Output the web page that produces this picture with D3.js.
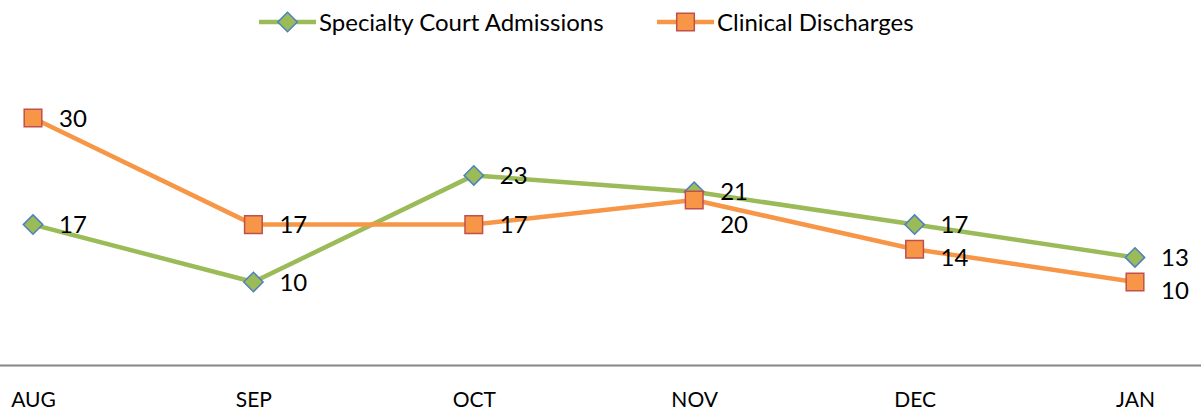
<!DOCTYPE html>
<html>
<head>
<meta charset="utf-8">
<script src="https://cdn.jsdelivr.net/npm/d3@7"></script>
<style>
  body { margin: 0; background: #fff; }
  svg { display: block; font-family: Lato, "Open Sans", sans-serif; }
</style>
</head>
<body>
<div id="chart"></div>
<script>
// chart data
var months = ["AUG", "SEP", "OCT", "NOV", "DEC", "JAN"];
var admissions = [17, 10, 23, 21, 17, 13];
var discharges = [30, 17, 17, 20, 14, 10];
var seriesNames = ["Specialty Court Admissions", "Clinical Discharges"];

var width = 1201, height = 413;

var svg = d3.select("#chart").append("svg")
  .attr("width", width)
  .attr("height", height);

var x = d3.scalePoint().domain(months).range([33, 1135]);
var y = d3.scaleLinear().domain([0, 35]).range([364, 77]);

var series = [
  { name: seriesNames[0], values: admissions, line: "#9BBB59", fill: "#9BBB59", stroke: "#4F81BD", shape: "diamond" },
  { name: seriesNames[1], values: discharges, line: "#F79646", fill: "#F79646", stroke: "#C0504D", shape: "square" }
];

// category axis: one baseline across the whole width
svg.append("line")
  .attr("x1", 0).attr("x2", width)
  .attr("y1", y(0) + 1.5).attr("y2", y(0) + 1.5)
  .attr("stroke", "#868686").attr("stroke-width", 2);

var xAxis = svg.append("g")
  .attr("transform", "translate(0," + (y(0) + 1.5) + ")")
  .call(d3.axisBottom(x).tickSize(0).tickPadding(27));
xAxis.select(".domain").remove();
xAxis.selectAll("text")
  .attr("font-family", "Lato, sans-serif")
  .attr("font-size", 21)
  .attr("fill", "#000");

var line = d3.line()
  .x(function(d, i) { return x(months[i]); })
  .y(function(d) { return y(d); });

function marker(sel, shape) {
  if (shape === "diamond") {
    sel.attr("d", d3.symbol().type(d3.symbolDiamond2 || d3.symbolDiamond).size(240)());
  } else {
    sel.attr("d", d3.symbol().type(d3.symbolSquare).size(310)());
  }
}

// lines first, then markers on top
series.forEach(function(s) {
  svg.append("path")
    .datum(s.values)
    .attr("fill", "none")
    .attr("stroke", s.line)
    .attr("stroke-width", 4.5)
    .attr("stroke-linejoin", "round")
    .attr("d", line);
});

series.forEach(function(s) {
  svg.selectAll(null)
    .data(s.values)
    .enter().append("path")
    .call(marker, s.shape)
    .attr("transform", function(d, i) { return "translate(" + x(months[i]) + "," + y(d) + ")"; })
    .attr("fill", s.fill)
    .attr("stroke", s.stroke)
    .attr("stroke-width", 1.5);
});

// data labels on the right of each point, pushed apart when they collide
months.forEach(function(m, i) {
  var a = y(admissions[i]), b = y(discharges[i]);
  var ya = a, yb = b;
  if (Math.abs(a - b) < 30) {
    if (a < b) yb = a + 33; else ya = b + 33;
  }
  [[admissions[i], ya], [discharges[i], yb]].forEach(function(p) {
    svg.append("text")
      .attr("x", x(m) + 26)
      .attr("y", p[1])
      .attr("dy", "0.36em")
      .attr("font-size", 24)
      .attr("fill", "#000")
      .text(p[0]);
  });
});

// legend
var legend = svg.append("g").attr("transform", "translate(0,22)");
var legendX = [259, 657];
series.forEach(function(s, i) {
  var g = legend.append("g").attr("transform", "translate(" + legendX[i] + ",0)");
  g.append("line")
    .attr("x1", 0).attr("x2", 57)
    .attr("stroke", s.line).attr("stroke-width", 4.5);
  g.append("path")
    .call(marker, s.shape)
    .attr("transform", "translate(28.5,0)")
    .attr("fill", s.fill)
    .attr("stroke", s.stroke)
    .attr("stroke-width", 1.5);
  g.append("text")
    .attr("x", 60)
    .attr("dy", "0.36em")
    .attr("font-size", 24)
    .attr("fill", "#000")
    .text(s.name);
});
</script>
</body>
</html>
